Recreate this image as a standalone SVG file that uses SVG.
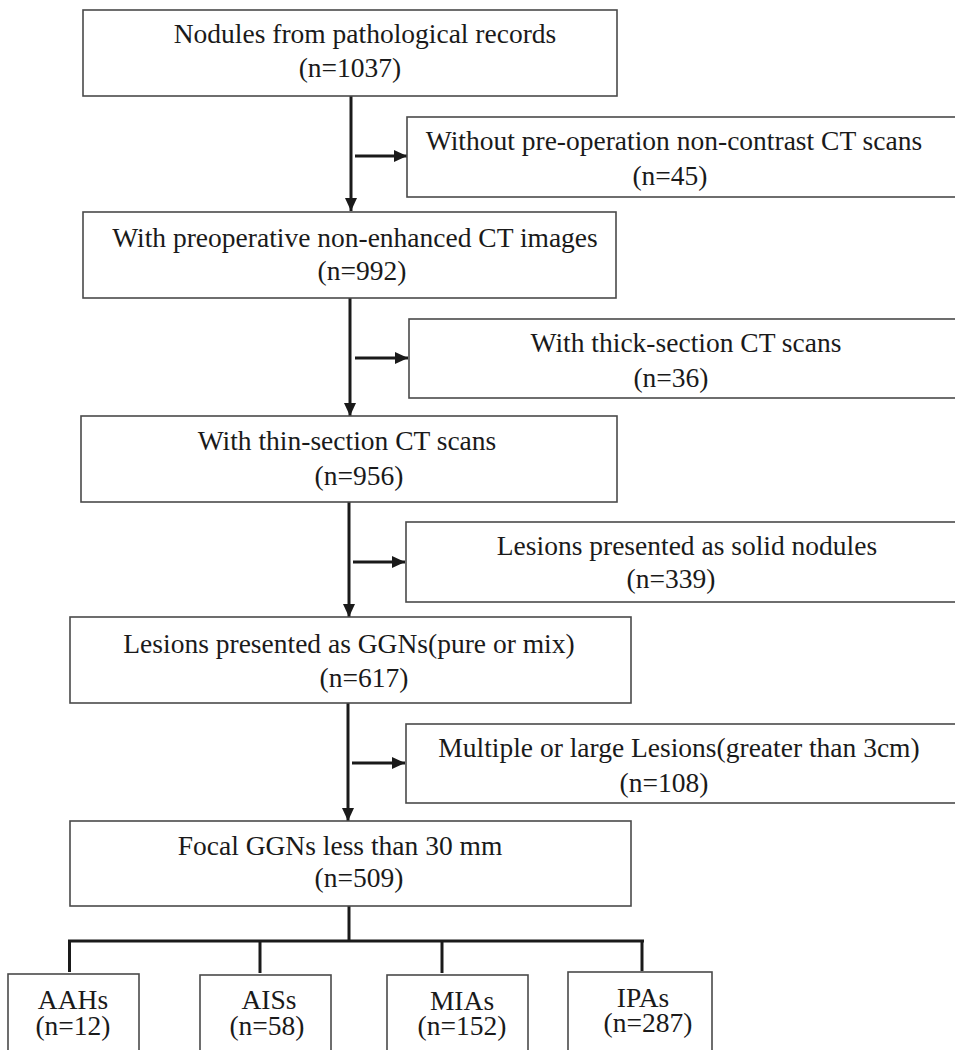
<svg xmlns="http://www.w3.org/2000/svg" width="955" height="1050" viewBox="0 0 955 1050">
<style>
.box{fill:#fff;stroke:#4a4a4a;stroke-width:1.6}
.t{font-family:"Liberation Serif","Times New Roman",serif;font-size:27.5px;fill:#1a1a1a;text-anchor:middle}
.ln{stroke:#1a1a1a;stroke-width:3;fill:none}
</style>
<defs>
<marker id="ah" markerUnits="userSpaceOnUse" markerWidth="14" markerHeight="12" refX="13" refY="6" orient="auto">
<path d="M0,0 L13,6 L0,12 Z" fill="#1a1a1a"/>
</marker>
</defs>
<rect width="955" height="1050" fill="#fff"/>
<g id="connectors">
<line class="ln" x1="351" y1="96" x2="351" y2="211" marker-end="url(#ah)"/>
<line class="ln" x1="355" y1="156" x2="407" y2="156" marker-end="url(#ah)"/>
<line class="ln" x1="350" y1="298" x2="350" y2="416" marker-end="url(#ah)"/>
<line class="ln" x1="355" y1="358" x2="408" y2="358" marker-end="url(#ah)"/>
<line class="ln" x1="349" y1="502" x2="349" y2="617" marker-end="url(#ah)"/>
<line class="ln" x1="353" y1="562" x2="405" y2="562" marker-end="url(#ah)"/>
<line class="ln" x1="348" y1="703" x2="348" y2="821" marker-end="url(#ah)"/>
<line class="ln" x1="352" y1="763" x2="405" y2="763" marker-end="url(#ah)"/>
<line class="ln" x1="349" y1="906" x2="349" y2="941"/>
<line class="ln" x1="68" y1="941" x2="644" y2="941" stroke-width="3.5"/>
<line class="ln" x1="69.5" y1="941" x2="69.5" y2="972"/>
<line class="ln" x1="260" y1="941" x2="260" y2="973"/>
<line class="ln" x1="442" y1="941" x2="442" y2="973"/>
<line class="ln" x1="642" y1="941" x2="642" y2="971"/>
</g>
<g id="n1">
<rect class="box" x="83" y="10" width="534" height="86"/>
<text class="t" x="365" y="43">Nodules from pathological records</text>
<text class="t" x="350" y="77">(n=1037)</text>
</g>
<g id="x1">
<rect class="box" x="407" y="117" width="560" height="80"/>
<text class="t" x="674" y="150">Without pre-operation non-contrast CT scans</text>
<text class="t" x="670" y="185">(n=45)</text>
</g>
<g id="n2">
<rect class="box" x="83" y="212" width="533" height="86"/>
<text class="t" x="355" y="247">With preoperative non-enhanced CT images</text>
<text class="t" x="362" y="280">(n=992)</text>
</g>
<g id="x2">
<rect class="box" x="409" y="319" width="560" height="79"/>
<text class="t" x="686" y="352">With thick-section CT scans</text>
<text class="t" x="671" y="387">(n=36)</text>
</g>
<g id="n3">
<rect class="box" x="81" y="416" width="536" height="86"/>
<text class="t" x="347" y="450">With thin-section CT scans</text>
<text class="t" x="359" y="485">(n=956)</text>
</g>
<g id="x3">
<rect class="box" x="406" y="522" width="560" height="80"/>
<text class="t" x="687" y="555">Lesions presented as solid nodules</text>
<text class="t" x="671" y="588">(n=339)</text>
</g>
<g id="n4">
<rect class="box" x="70" y="617" width="561" height="86"/>
<text class="t" x="349" y="653">Lesions presented as GGNs(pure or mix)</text>
<text class="t" x="364" y="687">(n=617)</text>
</g>
<g id="x4">
<rect class="box" x="406" y="724" width="560" height="79"/>
<text class="t" x="679" y="757">Multiple or large Lesions(greater than 3cm)</text>
<text class="t" x="664" y="792">(n=108)</text>
</g>
<g id="n5">
<rect class="box" x="70" y="821" width="561" height="85"/>
<text class="t" x="340" y="855">Focal GGNs less than 30 mm</text>
<text class="t" x="359" y="887">(n=509)</text>
</g>
<g id="aah">
<rect class="box" x="8" y="974" width="131" height="90"/>
<text class="t" x="73" y="1009">AAHs</text>
<text class="t" x="73" y="1035">(n=12)</text>
</g>
<g id="ais">
<rect class="box" x="200" y="975" width="131" height="90"/>
<text class="t" x="269" y="1009">AISs</text>
<text class="t" x="267" y="1035">(n=58)</text>
</g>
<g id="mia">
<rect class="box" x="387" y="975" width="141" height="90"/>
<text class="t" x="462" y="1010">MIAs</text>
<text class="t" x="462" y="1035">(n=152)</text>
</g>
<g id="ipa">
<rect class="box" x="568" y="972" width="144" height="90"/>
<text class="t" x="643" y="1007">IPAs</text>
<text class="t" x="648" y="1032">(n=287)</text>
</g>
</svg>
